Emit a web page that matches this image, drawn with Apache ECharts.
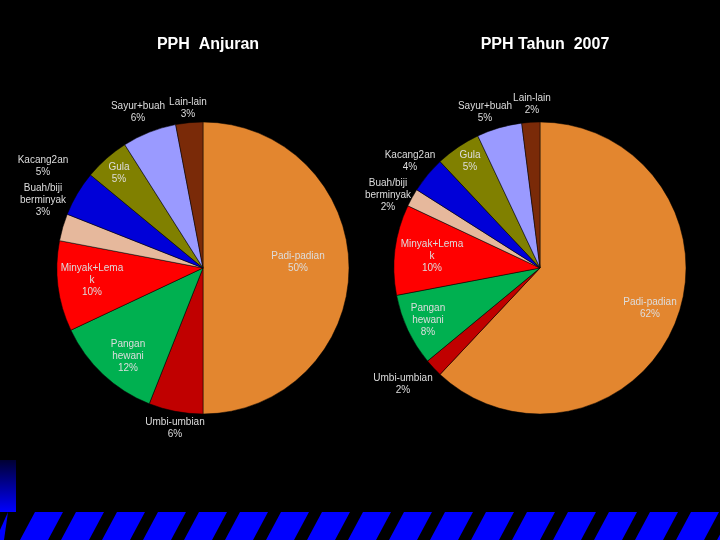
<!DOCTYPE html>
<html><head><meta charset="utf-8">
<script src="https://cdn.jsdelivr.net/npm/echarts@6/dist/echarts.min.js"></script>
<style>html,body{margin:0;background:#000}#c{width:720px;height:540px}</style></head>
<body><div id="c"></div>
<script>
const categories = ['Padi-padian','Umbi-umbian','Pangan hewani','Minyak+Lemak','Buah/biji berminyak','Kacang2an','Gula','Sayur+buah','Lain-lain'];
const labelNames = ['Padi-padian','Umbi-umbian','Pangan\nhewani','Minyak+Lema\nk','Buah/biji\nberminyak','Kacang2an','Gula','Sayur+buah','Lain-lain'];
const anjuran = [50, 6, 12, 10, 3, 5, 5, 6, 3];
const tahun2007 = [62, 2, 8, 10, 2, 4, 5, 5, 2];
const titles = ['PPH  Anjuran', 'PPH Tahun  2007'];
const colors = ['#E3862F','#C00000','#00B050','#FF0000','#E6B89C','#0000D8','#808000','#9A9AFF','#7A2A08'];
const leftLabelPos = [[298,262],[175,428],[128,356],[92,280],[43,200],[43,166],[119,173],[138,112],[188,108]];
const rightLabelPos = [[650,308],[403,384],[428,320],[432,256],[388,195],[410,161],[470,161],[485,112],[532,104]];

function mkSeries(vals, center, pos){
  return {
    type:'pie', radius:146, center:center, startAngle:90, clockwise:true,
    data: vals.map((v,i)=>({name:categories[i], value:v})),
    itemStyle:{borderColor:'#000', borderWidth:0.5},
    label:{show:true, color:'#ddd', fontSize:10, fontFamily:'Liberation Sans', lineHeight:12, align:'center',
      overflow:'none', width:200,
      formatter:p=>labelNames[p.dataIndex]+'\n'+p.value+'%'},
    labelLine:{show:false},
    labelLayout:p=>({x:pos[p.dataIndex][0], y:pos[p.dataIndex][1], align:'center', verticalAlign:'middle', hideOverlap:false, moveOverlap:null}),
    emphasis:{disabled:true}, animation:false
  };
}
const chart = echarts.init(document.getElementById('c'));
const stripes = [];
for(let i=0;i<19;i++){
  const x0 = 20 + i*41;
  stripes.push({type:'polygon', shape:{points:[[x0,540],[x0+15,512],[x0+43,512],[x0+28,540]]}, style:{fill:'#0000FF'}});
}
stripes.push({type:'polygon', shape:{points:[[0,540],[0,530],[8,512],[4,540]]}, style:{fill:'#0000FF'}});
chart.setOption({
  backgroundColor:'#000',
  color:colors,
  title:[
    {text:titles[0], left:203, top:32, textAlign:'center', textStyle:{color:'#fff', fontSize:16, fontWeight:'bold', fontFamily:'Liberation Sans'}},
    {text:titles[1], left:540, top:32, textAlign:'center', textStyle:{color:'#fff', fontSize:16, fontWeight:'bold', fontFamily:'Liberation Sans'}}
  ],
  graphic:[
    {type:'rect', shape:{x:0,y:460,width:16,height:52}, style:{fill:new echarts.graphic.LinearGradient(0,0,0,1,[{offset:0,color:'#000033'},{offset:1,color:'#0000FF'}])}}
  ].concat(stripes),
  series:[mkSeries(anjuran,[203,268],leftLabelPos), mkSeries(tahun2007,[540,268],rightLabelPos)]
});
</script></body></html>
